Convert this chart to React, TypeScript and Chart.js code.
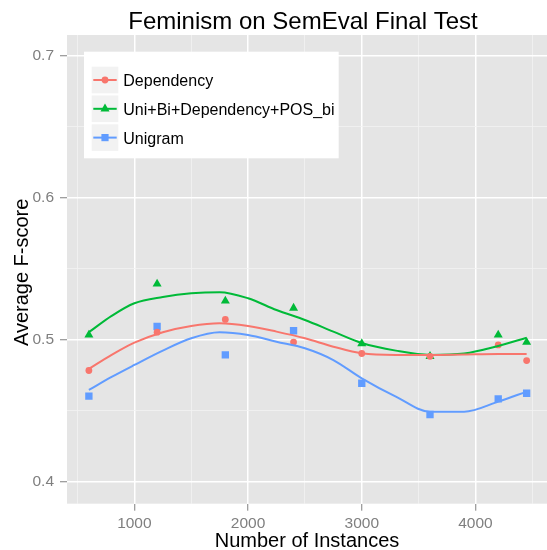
import React, { useEffect, useRef } from "react";
import { Chart, registerables } from "chart.js";

Chart.register(...registerables);

// ---- data ----
const instances = [600, 1200, 1800, 2400, 3000, 3600, 4200, 4450];
const dependency = [0.478, 0.505, 0.514, 0.498, 0.49, 0.488, 0.496, 0.485];
const uniBiDepPos = [0.503, 0.539, 0.527, 0.522, 0.497, 0.488, 0.503, 0.498];
const unigram = [0.46, 0.509, 0.489, 0.506, 0.469, 0.447, 0.458, 0.462];

// smoothed (loess) curves
const smoothX = [600, 800, 1000, 1250, 1500, 1750, 2000, 2250, 2500, 2750, 3000, 3300, 3600, 3900, 4200, 4450];
const dependencySmooth = [0.4791, 0.489, 0.4976, 0.505, 0.5094, 0.5113, 0.5094, 0.5054, 0.5007, 0.4948, 0.4901, 0.489, 0.489, 0.4893, 0.4896, 0.4896];
const uniBiDepPosSmooth = [0.505, 0.5165, 0.5254, 0.5298, 0.5324, 0.5332, 0.5289, 0.5206, 0.5136, 0.5054, 0.4974, 0.492, 0.489, 0.49, 0.4953, 0.5011];
const unigramSmooth = [0.4643, 0.4735, 0.4819, 0.492, 0.5007, 0.5049, 0.503, 0.4983, 0.4937, 0.4854, 0.4725, 0.4596, 0.449, 0.449, 0.4561, 0.4631];

const seriesNames = ["Dependency", "Uni+Bi+Dependency+POS_bi", "Unigram"];
const seriesColors = ["#F8766D", "#00BA38", "#619CFF"];
const seriesShapes = ["circle", "triangle", "rect"];

const xTicks = [500, 1000, 1500, 2000, 2500, 3000, 3500, 4000, 4500];
const xMajor = [1000, 2000, 3000, 4000];
const yTicks = [0.4, 0.45, 0.5, 0.55, 0.6, 0.65, 0.7];
const yMajor = [0.4, 0.5, 0.6, 0.7];

const titleText = "Feminism on SemEval Final Test";
const xTitle = "Number of Instances";
const yTitle = "Average F-score";

const FONT = "'Liberation Sans', Arial, sans-serif";

const isIn = (arr: number[], v: number) => arr.some((a) => Math.abs(a - v) < 1e-6);

function drawMarker(ctx: CanvasRenderingContext2D, shape: string, x: number, y: number, color: string) {
  ctx.fillStyle = color;
  ctx.beginPath();
  if (shape === "circle") {
    ctx.arc(x, y, 3.4, 0, Math.PI * 2);
  } else if (shape === "triangle") {
    const r = 5.2;
    ctx.moveTo(x, y - r);
    ctx.lineTo(x + r * 0.866, y + r * 0.5);
    ctx.lineTo(x - r * 0.866, y + r * 0.5);
    ctx.closePath();
  } else {
    const s = 3.6;
    ctx.rect(x - s, y - s, 2 * s, 2 * s);
  }
  ctx.fill();
}

const decorPlugin = {
  id: "decor",
  beforeDraw(chart: any) {
    const { ctx, chartArea } = chart;
    const { left, top, right, bottom } = chartArea;
    ctx.save();
    ctx.fillStyle = "#FFFFFF";
    ctx.fillRect(0, 0, chart.width, chart.height);
    ctx.fillStyle = "#E5E5E5";
    ctx.fillRect(left, top, right - left, bottom - top);
    ctx.restore();
  },
  afterDraw(chart: any) {
    const { ctx, chartArea } = chart;
    const { top, bottom } = chartArea;
    ctx.save();
    ctx.fillStyle = "#000000";
    // title
    ctx.font = `24px ${FONT}`;
    ctx.textAlign = "center";
    ctx.textBaseline = "alphabetic";
    ctx.fillText(titleText, 303, 28.5);
    // x title
    ctx.font = `20px ${FONT}`;
    ctx.fillText(xTitle, 307, 547);
    // y title
    ctx.save();
    ctx.translate(28, (top + bottom) / 2 + 3);
    ctx.rotate(-Math.PI / 2);
    ctx.fillText(yTitle, 0, 0);
    ctx.restore();

    // legend
    ctx.fillStyle = "#FFFFFF";
    ctx.fillRect(84, 51.7, 254.7, 106.6);
    for (let i = 0; i < seriesNames.length; i++) {
      const kt = 66.7 + i * 28.8;
      ctx.fillStyle = "#F2F2F2";
      ctx.fillRect(91.7, kt, 26.6, 26.6);
      const cy = kt + 13.3;
      ctx.strokeStyle = seriesColors[i];
      ctx.lineWidth = 2;
      ctx.beginPath();
      ctx.moveTo(93.3, cy);
      ctx.lineTo(116.7, cy);
      ctx.stroke();
      drawMarker(ctx, seriesShapes[i], 105, cy, seriesColors[i]);
      ctx.fillStyle = "#000000";
      ctx.font = `16px ${FONT}`;
      ctx.textAlign = "left";
      ctx.textBaseline = "alphabetic";
      ctx.fillText(seriesNames[i], 123.3, kt + 19.3);
    }
    ctx.restore();
  },
};

export default function App() {
  const canvasRef = useRef<HTMLCanvasElement | null>(null);

  useEffect(() => {
    if (!canvasRef.current) return;
    const pts = (ys: number[]) => instances.map((x, i) => ({ x, y: ys[i] }));
    const curve = (ys: number[]) => smoothX.map((x, i) => ({ x, y: ys[i] }));
    const pointSeries = [dependency, uniBiDepPos, unigram];
    const smoothSeries = [dependencySmooth, uniBiDepPosSmooth, unigramSmooth];

    const datasets: any[] = [];
    for (let i = 0; i < 3; i++) {
      datasets.push({
        label: seriesNames[i] + " smooth",
        data: curve(smoothSeries[i]),
        showLine: true,
        borderColor: seriesColors[i],
        borderWidth: 2,
        pointRadius: 0,
        cubicInterpolationMode: "monotone",
        fill: false,
        order: 1,
      });
    }
    for (let i = 0; i < 3; i++) {
      datasets.push({
        label: seriesNames[i],
        data: pts(pointSeries[i]),
        showLine: false,
        backgroundColor: seriesColors[i],
        borderColor: seriesColors[i],
        borderWidth: 0,
        pointStyle: seriesShapes[i],
        pointRadius: seriesShapes[i] === "circle" ? 3.4 : 5.2,
        order: 2,
      });
    }

    const chart = new Chart(canvasRef.current, {
      type: "scatter",
      data: { datasets },
      plugins: [decorPlugin],
      options: {
        animation: false,
        responsive: false,
        devicePixelRatio: 1,
        layout: { autoPadding: false, padding: { top: 35, left: 0, right: 0, bottom: 0 } },
        plugins: {
          legend: { display: false },
          title: { display: false },
          tooltip: { enabled: false },
        },
        scales: {
          x: {
            type: "linear",
            min: 407.5,
            max: 4629,
            afterBuildTicks: (scale: any) => {
              scale.ticks = xTicks.map((v) => ({ value: v }));
            },
            afterFit: (scale: any) => {
              scale.height = 46.3;
              scale.paddingLeft = 0;
              scale.paddingRight = 0;
            },
            border: { display: false },
            grid: {
              color: (c: any) => (isIn(xMajor, c.tick?.value) ? "#FFFFFF" : "#F2F2F2"),
              lineWidth: (c: any) => (isIn(xMajor, c.tick?.value) ? 1.5 : 0.8),
              tickColor: (c: any) => (isIn(xMajor, c.tick?.value) ? "#7F7F7F" : "rgba(0,0,0,0)"),
              tickWidth: 1,
              tickLength: 7,
              drawTicks: true,
            },
            ticks: {
              autoSkip: false,
              maxRotation: 0,
              padding: 4,
              color: "#7F7F7F",
              font: { family: FONT, size: 15.5 },
              callback: (v: any) => (isIn(xMajor, Number(v)) ? String(v) : ""),
            },
          },
          y: {
            type: "linear",
            min: 0.3842,
            max: 0.7143,
            afterBuildTicks: (scale: any) => {
              scale.ticks = yTicks.map((v) => ({ value: v }));
            },
            afterFit: (scale: any) => {
              scale.width = 67;
              scale.paddingTop = 0;
              scale.paddingBottom = 0;
            },
            border: { display: false },
            grid: {
              color: (c: any) => (isIn(yMajor, c.tick?.value) ? "#FFFFFF" : "#F2F2F2"),
              lineWidth: (c: any) => (isIn(yMajor, c.tick?.value) ? 1.5 : 0.8),
              tickColor: (c: any) => (isIn(yMajor, c.tick?.value) ? "#7F7F7F" : "rgba(0,0,0,0)"),
              tickWidth: 1,
              tickLength: 7,
              drawTicks: true,
            },
            ticks: {
              autoSkip: false,
              padding: 6,
              color: "#7F7F7F",
              font: { family: FONT, size: 15.5 },
              callback: (v: any) => (isIn(yMajor, Number(v)) ? Number(v).toFixed(1) : ""),
            },
          },
        },
      } as any,
    });
    return () => chart.destroy();
  }, []);

  return (
    <div style={{ position: "fixed", left: 0, top: 0, width: 547, height: 550, overflow: "hidden", background: "#fff" }}>
      <canvas ref={canvasRef} width={547} height={550} style={{ display: "block" }} />
    </div>
  );
}
